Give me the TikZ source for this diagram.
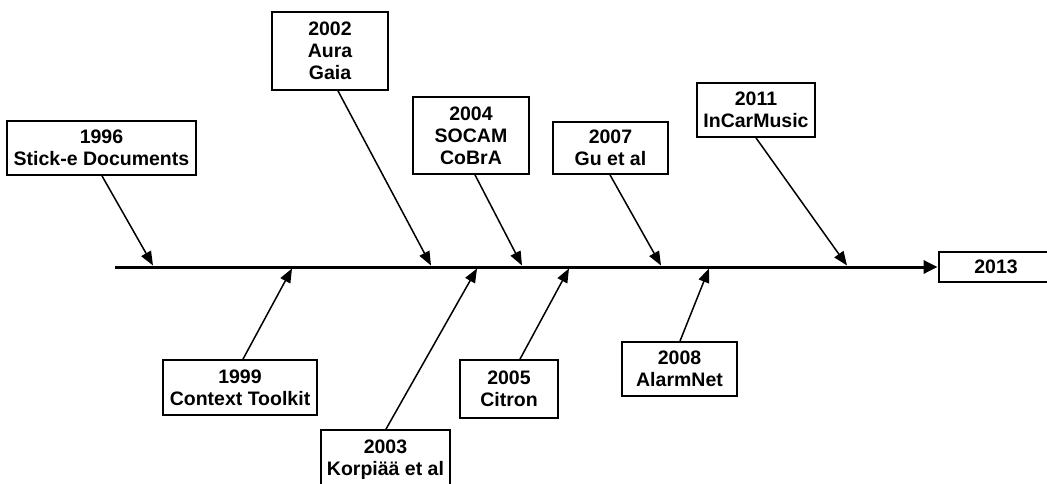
\documentclass[tikz,border=0pt]{standalone}
\usepackage{fontspec}
\setmainfont{Liberation Sans}
\usetikzlibrary{arrows.meta}
\begin{document}
\begin{tikzpicture}[x=1pt,y=1pt,
  yearbox/.style={draw=black,line width=1.8pt,fill=white,inner sep=0pt,align=center,
    font=\fontsize{19.5}{22}\selectfont\bfseries},
  conn/.style={line width=1.5pt,-{Triangle[length=14pt,width=11pt]}},
  mainline/.style={line width=3pt,-{Triangle[length=14pt,width=13pt]},shorten >=0.5pt}]
\useasboundingbox (0,0) rectangle (1047,483);
\clip (0,0) rectangle (1047,483);
% boxes
\node[yearbox,minimum width=189pt,minimum height=54pt] (b1996) at (101.5,335) {1996\\Stick-e Documents};
\node[yearbox,minimum width=154pt,minimum height=55pt] (b1999) at (240,95.5) {1999\\Context Toolkit};
\node[yearbox,minimum width=116pt,minimum height=78pt] (b2002) at (330,432) {2002\\Aura\\Gaia};
\node[yearbox,minimum width=129pt,minimum height=60pt] (b2003) at (385.5,23) {2003\\Korpiää et al};
\node[yearbox,minimum width=116pt,minimum height=77pt] (b2004) at (471,347.5) {2004\\SOCAM\\CoBrA};
\node[yearbox,minimum width=98pt,minimum height=58pt] (b2005) at (509,94) {2005\\Citron};
\node[yearbox,minimum width=115pt,minimum height=52pt] (b2007) at (610.5,335) {2007\\Gu et al};
\node[yearbox,minimum width=115pt,minimum height=54pt] (b2008) at (679.5,114) {2008\\AlarmNet};
\node[yearbox,minimum width=118pt,minimum height=54pt] (b2011) at (756,373) {2011\\InCarMusic};
\node[yearbox,minimum width=114pt,minimum height=30pt] (b2013) at (996,216) {2013};
% main line
\coordinate (start) at (115,216);
\draw[mainline] (start) -- (b2013.west);
% tips on the main line
\coordinate (t96) at (153,217.5);
\coordinate (t99) at (292,214.5);
\coordinate (t02) at (431,217.5);
\coordinate (t03) at (477,214.5);
\coordinate (t04) at (522,217.5);
\coordinate (t05) at (569,214.5);
\coordinate (t07) at (661,217.5);
\coordinate (t08) at (709,214.5);
\coordinate (t11) at (847,217.5);
% connector start x positions
\coordinate (s96) at (102,0);
\coordinate (s99) at (243,0);
\coordinate (s02) at (338,0);
\coordinate (s03) at (386,0);
\coordinate (s04) at (475,0);
\coordinate (s05) at (520,0);
\coordinate (s07) at (610,0);
\coordinate (s08) at (680,0);
\coordinate (s11) at (756,0);
% connectors
\draw[conn] (b1996.south -| s96) -- (t96);
\draw[conn] (b1999.north -| s99) -- (t99);
\draw[conn] (b2002.south -| s02) -- (t02);
\draw[conn] (b2003.north -| s03) -- (t03);
\draw[conn] (b2004.south -| s04) -- (t04);
\draw[conn] (b2005.north -| s05) -- (t05);
\draw[conn] (b2007.south -| s07) -- (t07);
\draw[conn] (b2008.north -| s08) -- (t08);
\draw[conn] (b2011.south -| s11) -- (t11);
\end{tikzpicture}
\end{document}
